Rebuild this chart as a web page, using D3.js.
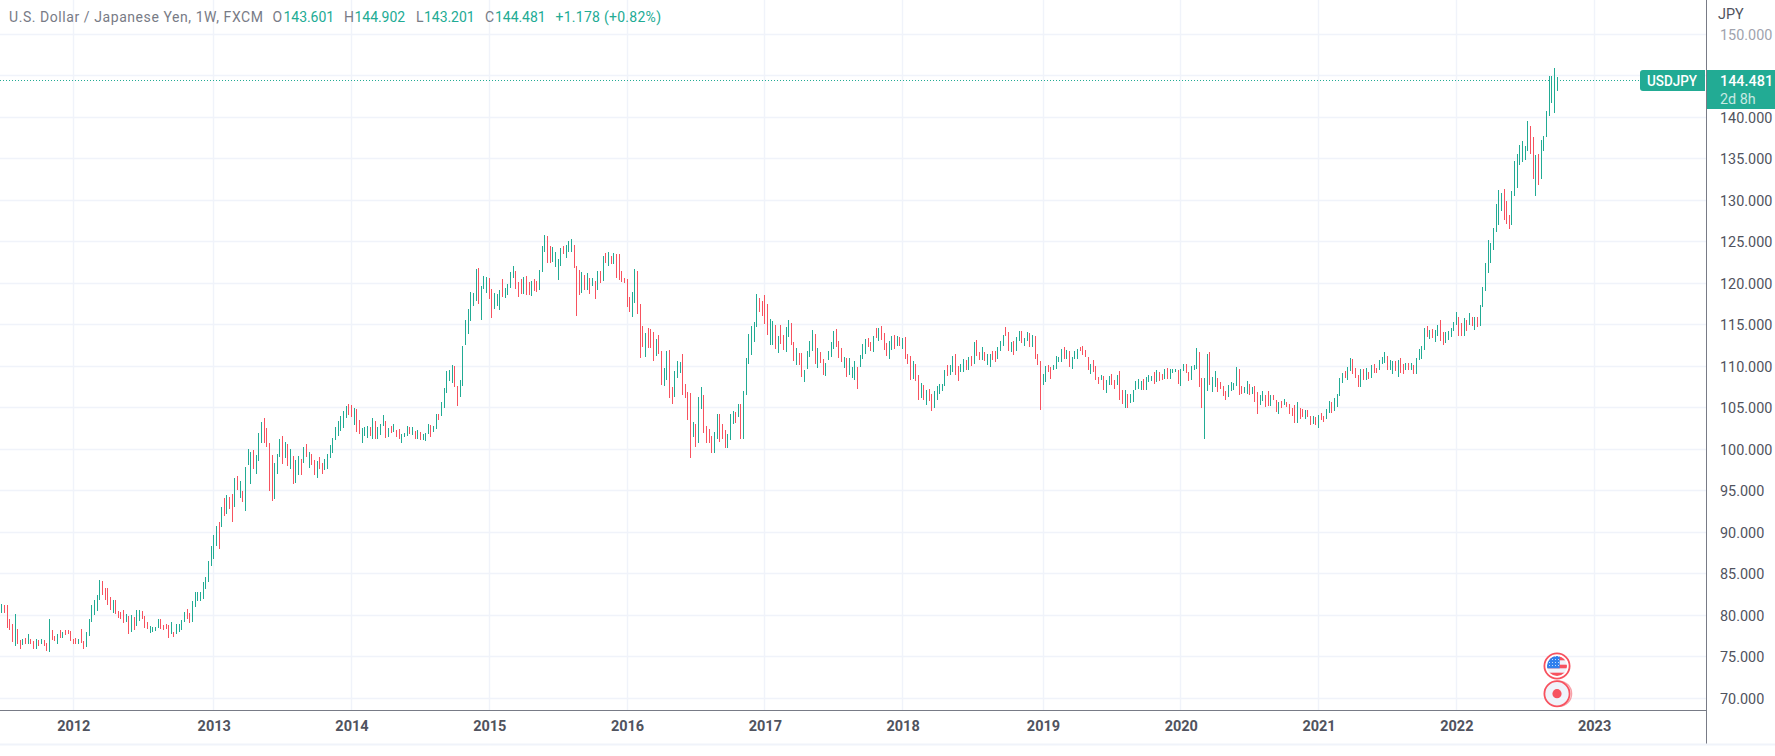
<!DOCTYPE html>
<html><head><meta charset="utf-8"><title>USDJPY weekly</title>
<script src="https://cdn.jsdelivr.net/npm/d3@7"></script>
<style>
html,body{margin:0;padding:0;background:#fff;overflow:hidden}
svg{display:block;font-family:Roboto,"Open Sans",sans-serif}
</style></head><body><svg id="c" width="1775" height="756"></svg>
<script>
// Each weekly bar: [high, low, closedUp]
const w2011=[[81.4,80.3,1],[81.3,80.3,0],[81.2,78.5,0],[79.5,78.2,0],[78.9,76.8,0],[80.2,76.3,1],[78.4,76.5,0],[77,75.9,0],[77.2,76.4,1],[77.3,76.5,0],[77.8,76.6,1],[77.1,76.5,0],[76.9,76,0],[77.1,76,1],[77,76.3,0],[77.2,76.6,1],[77,76.3,0],[76.7,75.7,0],[79.5,75.6,1],[78.2,77,0],[77.5,76.9,0],[77.7,76.5,1],[78.2,77.3,0],[78,77.3,1],[78.2,77.6,0],[78.2,77.8,0],[78.1,76.9,0]];
const w2012=[[77.2,76.6,0],[77.3,76.6,0],[77.2,76.5,1],[78.3,76.7,0],[76.9,76,0],[78,76.2,1],[79.5,77.5,1],[81.2,79.2,1],[81.9,80,1],[82.5,80.5,1],[84.2,81.8,1],[84.1,82.5,0],[83.3,81.8,0],[83.3,81.3,0],[82.2,80.6,0],[81.9,80.3,1],[81.8,80.2,0],[80.5,79.7,0],[80.4,79.6,0],[80.6,79.1,0],[80.2,79.2,1],[79.9,77.7,0],[80,78,1],[79.8,78.2,0],[80.6,78.7,1],[80.6,79.3,1],[80.5,79.5,0],[79.9,78.5,0],[79.2,78.3,0],[78.7,77.9,1],[78.6,78,1],[78.6,78.1,1],[79.6,78.5,1],[79.6,78.4,0],[78.8,78.2,0],[78.9,78.3,0],[78.8,77.3,0],[79.2,77.8,1],[78,77.4,0],[78.9,77.8,1],[79,78,1],[79.4,78.2,1],[80.4,79.2,1],[80.7,79.5,0],[80.3,79.1,0],[81.7,79.2,1],[82.8,81,1],[82.8,81.7,1],[82.8,81.7,1],[84,82,1],[84.6,83.2,1],[86.6,84,1],[88.4,86,1]];
const w2013=[[89.7,86.8,1],[90.7,88.3,1],[91.2,88,0],[93.1,90.6,1],[94.1,92,0],[94.5,92.2,1],[94.3,92.85,0],[94.65,91.2,0],[96.5,93,1],[96.8,95.1,0],[96.2,94.1,1],[95,93.6,0],[97.9,92.6,1],[100,98.1,1],[99.7,95.8,1],[99.9,97.6,0],[99.3,97,1],[102,98.6,1],[103.3,100.8,1],[103.8,100.8,0],[102.6,100.3,0],[100.8,95,0],[99.3,93.8,0],[98.4,94,1],[99.4,97,1],[101.2,99.1,1],[101.6,98.2,0],[100.9,99,1],[100.6,98,0],[100,97.6,1],[99.2,95.8,0],[98.7,95.9,1],[99.2,96.9,1],[98.8,96.9,0],[100.3,98.4,1],[100.6,99.1,0],[99.7,97.8,1],[99.4,98.1,0],[98.7,96.9,0],[98.6,96.5,1],[99.1,97.6,0],[98.4,97,0],[98.8,97.5,1],[99.4,97.6,1],[100.5,99,1],[101.4,99.6,1],[102.7,101.1,1],[103.4,101.6,1],[104,102.2,1],[104.6,102.6,1],[105.2,103.8,1],[105.45,104.1,0]];
const w2014=[[105.3,103.9,0],[105,102.9,1],[104.8,102.1,0],[103.5,101.8,0],[102.6,100.8,1],[102.7,101.6,1],[102.8,101.4,1],[102.7,101.6,0],[103.8,101.2,1],[103.4,101.2,0],[102.7,101.2,1],[103,101.7,1],[104.1,102.8,1],[103.4,101.4,0],[102.6,101.5,1],[102.8,102,0],[103,102.1,1],[102.3,101.5,0],[102.4,101.3,0],[101.9,100.8,1],[102,101.5,1],[102.8,101.6,1],[102.7,101.8,0],[102.7,101.7,1],[102.2,101.2,0],[102.3,101.3,1],[102.1,101.1,0],[101.9,101.1,1],[102,101,1],[103.1,101.8,1],[102.9,101.5,0],[102.8,102.1,1],[104.3,102.5,1],[104.2,103.5,0],[105.7,104,1],[107.4,105,1],[109.4,106.8,1],[109.6,108.2,1],[110.2,108,1],[110,107.5,0],[107.6,105.2,0],[108.3,106.3,1],[112.4,107.6,1],[115.6,112.6,1],[116.9,113.9,1],[119,115.5,1],[118.8,117.3,1],[121.7,117.9,1],[121.85,117.5,0],[119.7,115.6,1],[120.9,119.3,1],[120.8,118.8,1]];
const w2015=[[120.6,118.1,0],[119.3,115.8,0],[118.8,116.9,1],[118.7,117.3,1],[119.2,116.8,1],[120.5,118.4,0],[119.4,118.2,1],[119.9,118.6,1],[121.4,119.4,1],[122.1,120.6,1],[121.5,119.3,0],[120.2,118.4,0],[120.5,118.7,0],[120.8,118.7,1],[120.9,118.6,0],[120.2,118.6,0],[120.3,118.5,1],[120.5,119.1,0],[120.3,119,0],[121.6,119.2,1],[124.5,121.4,1],[125.8,123.8,1],[125.7,122.4,0],[124.5,122.4,0],[124.4,122.6,1],[123.8,122,1],[122.9,120.4,1],[124.3,122.1,1],[124.5,123.5,0],[124.6,123.1,1],[125.1,123.8,1],[125.3,123.8,1],[124.6,121.8,0],[122.1,116.1,0],[121.6,118.6,0],[121.4,118.8,1],[121,119.2,0],[121.2,119.2,1],[120.6,118.7,0],[120.6,119.7,1],[120.3,118.1,0],[121.5,119.2,1],[121.5,120,0],[123.3,120.3,1],[123.7,122.4,0],[123.8,122.1,1],[123.3,122.3,0],[123.7,122.3,1],[123.5,120.6,0],[123.5,120.4,0],[121.5,120.2,0],[120.6,120,0]];
const w2016=[[120.5,117.2,0],[118.4,116.5,0],[119,116,1],[121.7,117.6,1],[121.5,116.3,0],[117.5,111,0],[114.9,112.3,0],[114,111.1,1],[114.6,112.2,0],[114.5,112.2,0],[114.1,110.6,0],[113.3,111.2,1],[113.8,111.5,0],[111.8,107.7,0],[109.8,107.6,1],[111.8,108.4,1],[112,106.2,0],[107.5,105.5,0],[109.4,106.3,1],[110.6,108.6,1],[110.5,109.2,1],[111.5,106.5,0],[107.9,106.2,0],[106.9,103.5,0],[106.8,99,0],[103.3,101.5,1],[103,100.3,0],[106.3,100.7,1],[107.5,104.9,1],[106.5,102,0],[102.8,100.7,0],[102.4,100.8,0],[101.6,99.5,0],[102.1,99.5,1],[104.3,101.2,1],[104.3,100.9,0],[103,101.2,0],[102.3,100.1,0],[101.9,100.1,1],[104.2,101.1,1],[104.6,103,1],[104.5,103.2,0],[105.5,103.9,1],[105.5,101.2,0],[107,101.2,1],[111,106.6,1],[113.9,110.3,1],[114.9,111.4,1],[115.3,112.9,1],[118.7,114.7,1],[118.2,116.5,0],[117.9,116.1,0]];
const w2017=[[118.6,115.1,0],[117.5,113.8,0],[115.7,112.6,1],[115.5,112.6,1],[115,112.1,0],[113.7,111.6,1],[115,112.7,0],[113.8,112,0],[114.7,111.7,1],[115.6,113.5,1],[115.2,112.6,0],[112.9,110.6,0],[112.2,110.2,1],[111.6,110.2,0],[111.6,108.7,0],[109.5,108.1,1],[111.8,109.7,1],[113.1,111.1,1],[114.4,111.8,1],[113.9,110.3,0],[112.2,109.8,1],[111.7,110.4,0],[110.9,109,0],[110.4,108.8,1],[111.8,110.8,1],[112.9,111.1,1],[114.3,112.1,1],[114.5,112.3,0],[113.1,111,0],[112.2,110.5,0],[111.1,109.8,1],[111,108.7,0],[111,109,1],[109.9,108.6,1],[110.6,108.3,1],[109.9,107.3,0],[111.4,109.9,1],[112.7,110.9,1],[113.3,111.5,1],[113.4,112.3,0],[112.9,111.8,0],[113.7,111.7,1],[114.6,113.4,0],[114.6,113,1],[114.8,113.2,0],[114,112,0],[112.8,111.2,0],[113,110.9,1],[113.7,112,1],[113.8,112.1,0],[113.7,112.4,1],[113.5,112.5,0]];
const w2018=[[113.4,112.1,1],[113.5,110.9,0],[111.5,110.3,0],[111.3,108.4,0],[110.6,108.5,1],[110.3,108.2,0],[109,106,0],[108,106.2,1],[107.8,106,0],[107.1,105.3,1],[107.3,105.8,0],[106.7,104.6,0],[107,105,1],[107.6,106,1],[107.9,106.7,1],[107.9,107,1],[109.6,107.6,1],[110.1,108.8,0],[110.1,108.9,1],[111.2,109.3,1],[111.5,109,0],[110,108.2,0],[110.3,109.3,1],[110.9,109.3,1],[110.8,109.6,0],[111.1,109.5,1],[111.2,110,0],[112.9,110.3,1],[113.2,111.2,0],[111.7,110.7,0],[112.3,110.8,1],[111.7,110.6,0],[111.5,110.1,1],[111.5,109.9,1],[111.9,110.8,0],[111.9,110.5,0],[112.3,110.9,1],[113,111.8,1],[113.8,112.4,1],[114.7,113.6,0],[114.1,111.9,0],[112.9,111.7,1],[113,111.4,0],[113.5,111.8,1],[114.2,113,1],[114.3,112.8,0],[113.4,112.4,1],[114.1,113,1],[114,112.3,0],[113.8,112.3,1],[113.6,110.9,0],[111.5,110.2,0],[110.6,104.7,0]];
const w2019=[[109.1,107.8,1],[110,108.1,1],[110.1,109.3,0],[109.9,108.5,0],[110.2,109.5,1],[111.2,109.7,1],[111.1,110.5,1],[112.1,110.5,1],[112.3,110.9,0],[112,110.9,1],[111.8,109.9,0],[111.1,109.7,1],[111.9,110.9,1],[112.1,110.9,1],[112.3,111.8,0],[112.5,111.4,0],[112,111.1,0],[111.1,109.6,0],[110.3,109.1,1],[110.8,109.3,0],[110,108.3,0],[108.7,107.9,0],[108.9,108.3,1],[108.8,107.1,0],[108.3,106.8,1],[108.8,107.7,1],[109.1,107.7,0],[108.4,107.3,0],[108.9,107.7,1],[109.4,106,0],[107.2,105.5,0],[107.1,105,1],[106.7,105,0],[106.7,105.6,1],[107.2,105.7,1],[108.2,107.1,1],[108.5,107.3,1],[108.2,107.1,1],[108.5,107.1,0],[108.7,107.1,1],[109,108.1,1],[108.8,108.2,1],[109.3,107.9,0],[109.6,108.1,1],[109.3,108.2,0],[109.1,108.4,0],[109.7,108.5,1],[109.8,108.5,0],[109.7,108.5,1],[109.7,109.2,1],[109.7,109.3,1],[109.6,107.9,0]];
const w2020=[[109.7,107.6,1],[110.3,109.4,1],[110.3,109.2,0],[109.3,108.2,0],[110,108.4,1],[110.2,109.6,1],[112.2,109.7,1],[111.7,107.5,0],[108.6,105,0],[108.6,101.2,1],[111.5,107,1],[111.7,107.8,0],[108.7,106.9,1],[109.4,107.5,1],[108.6,106.9,0],[108.1,107.3,0],[107.6,106.4,0],[107,106,0],[107.8,106.3,1],[108.1,107,1],[108,107.1,1],[109.9,107.6,1],[109.7,106.6,0],[107.6,106.7,0],[107.5,106.8,1],[108.2,106.7,1],[107.9,106.6,0],[107.5,106.7,1],[107.6,105.7,0],[106.9,104.2,0],[106.5,105.3,1],[107,105.8,1],[106.6,105.1,0],[107,105.2,0],[106.5,105.2,1],[106.5,105.9,0],[106,104.5,0],[105.7,104.3,1],[105.8,105,0],[106.1,105.3,1],[105.7,105.1,0],[105.5,104.3,0],[105,104,0],[105.3,103.2,0],[105.7,103.2,1],[105,103.6,0],[104.8,103.9,0],[104.7,103.7,1],[104.7,103.9,0],[104,102.9,0],[104,103.1,1],[103.9,102.9,0]];
const w2021=[[104.1,102.6,1],[104.4,103.5,0],[104,103.3,0],[104.9,103.6,1],[105.8,104.4,1],[105.7,104.4,0],[106.2,104.6,1],[106.7,105.1,1],[108.6,106.4,1],[109.2,108,1],[109.4,108.6,0],[109.9,108.4,1],[111,109.4,1],[110.9,109.1,0],[109.8,108.6,0],[108.9,107.5,0],[109.7,107.5,1],[109.7,108.3,0],[109.8,108.3,1],[109.3,108.5,0],[110.2,108.6,1],[110.3,109.2,0],[109.8,109.2,0],[110.8,109.6,1],[111.1,110.3,1],[111.7,110.4,1],[111.3,109.5,0],[110.7,109.6,1],[110.6,109.1,1],[110.6,109.4,0],[110.8,108.7,1],[111,109.2,0],[110.3,109.1,0],[110.4,109.6,1],[110.4,109.6,0],[110.4,109.5,1],[110.1,109.1,0],[111,109.1,1],[112.1,110.8,1],[112.4,110.9,1],[114.6,112,1],[114.8,113.5,0],[114.4,113.3,1],[114.5,113.4,0],[114.4,112.9,1],[115,113.7,1],[115.6,113.1,0],[114.1,112.6,0],[114.1,112.8,1],[114.3,113.2,1],[114.6,113.5,1],[115.3,114.3,1]];
const w2022=[[116.5,115,1],[115.9,113.6,0],[115.2,113.6,0],[115.8,113.6,1],[115.6,114.2,0],[116.4,115,1],[116,114.9,0],[115.9,114.4,1],[115.9,114.7,0],[117.4,114.9,1],[119.5,117.2,1],[122.5,119.1,1],[125.2,121.3,1],[124.8,122.4,1],[126.7,124,1],[129.5,126.2,1],[131.3,127,1],[130.9,128.7,1],[131.4,127.6,0],[129.9,127.1,0],[128.2,126.5,0],[131.1,127,1],[134.7,130.5,1],[135.6,131.5,1],[136.7,134.3,1],[137.1,134.6,1],[136.6,134.8,1],[139.5,135.9,1],[138.9,135.6,0],[137.6,132.6,0],[135.5,130.5,1],[135.6,131.8,0],[137.3,132.6,1],[137.8,135.9,1],[140.8,137.6,1],[145,140.1,1],[145,141.7,1],[146,140.5,1],[144.902,143.201,1]];

const yearLabels=[2012,2013,2014,2015,2016,2017,2018,2019,2020,2021,2022,2023];
const yearStartWeek=[0,53,105,157,209,261,313,366,418,470,522,574];
const priceTicks=[70,75,80,85,90,95,100,105,110,115,120,125,130,135,140,150];
const priceGrid=[70,75,80,85,90,95,100,105,110,115,120,125,130,135,140,145,150];
const lastPrice=144.481;
const legendParts=[
 ["U.S. Dollar / Japanese Yen, 1W, FXCM",9,"#787b86",254],["O",272.5,"#787b86",10],["143.601",283.5,"#22ab94",50.6],
 ["H",344,"#787b86",10],["144.902",354.5,"#22ab94",50.6],["L",416,"#787b86",7.5],["143.201",424,"#22ab94",50.6],
 ["C",485,"#787b86",9.5],["144.481",495,"#22ab94",50.6],["+1.178 (+0.82%)",555.5,"#22ab94",105.5]];

const UP="#22ab94",DOWN="#f7525f",GRID="#f0f3fa",AXIS="#787b86";
const older=w2011.map((d,i)=>({week:i-w2011.length,high:d[0],low:d[1],up:d[2]}));
const newer=[w2012,w2013,w2014,w2015,w2016,w2017,w2018,w2019,w2020,w2021,w2022].flat()
  .map((d,i)=>({week:i,high:d[0],low:d[1],up:d[2]}));
const bars=older.concat(newer);

const svg=d3.select("#c");
const x=d3.scaleLinear().domain([0,560]).range([73.3,1557]);
const y=d3.scaleLinear().domain([70,150]).range([698.3,34.3]);
const px=v=>Math.floor(v)+.5;

svg.append("rect").attr("width",1775).attr("height",756).attr("fill","#fff");
// grid
svg.append("g").selectAll("line").data(priceGrid).join("line")
  .attr("x1",0).attr("x2",1706).attr("y1",d=>px(y(d))).attr("y2",d=>px(y(d)))
  .attr("stroke",GRID).attr("stroke-width",1.4);
svg.append("g").selectAll("line").data(yearStartWeek).join("line")
  .attr("x1",d=>px(x(d))).attr("x2",d=>px(x(d))).attr("y1",0).attr("y2",710)
  .attr("stroke",GRID).attr("stroke-width",1.4);

// bars
svg.append("g").selectAll("line").data(bars).join("line")
  .attr("x1",d=>px(x(d.week))).attr("x2",d=>px(x(d.week)))
  .attr("y1",d=>y(d.high)).attr("y2",d=>y(d.low))
  .attr("stroke",d=>d.up?UP:DOWN).attr("stroke-width",1.1).attr("shape-rendering","crispEdges");

// last price line
svg.append("line").attr("x1",0).attr("x2",1640).attr("y1",px(y(lastPrice))).attr("y2",px(y(lastPrice)))
  .attr("stroke",UP).attr("stroke-width",1).attr("stroke-dasharray","1 2");

// event icons
const defs=svg.append("defs");
defs.append("clipPath").attr("id","flag").append("circle").attr("cx",1557).attr("cy",666).attr("r",10);
const ic=svg.append("g");
ic.append("circle").attr("cx",1557).attr("cy",666).attr("r",12.6).attr("fill","#fff").attr("stroke",DOWN).attr("stroke-width",1.8);
const fl=ic.append("g").attr("clip-path","url(#flag)");
fl.append("rect").attr("x",1547).attr("y",656).attr("width",20).attr("height",20).attr("fill","#f0f3fa");
fl.selectAll(".s").data([656.7,664.7,672.7]).join("rect").attr("x",1547).attr("width",20).attr("height",3.6)
  .attr("y",d=>d).attr("fill",DOWN);
fl.append("rect").attr("x",1547).attr("y",656).attr("width",12.7).attr("height",12.3).attr("fill","#2f80ed");
fl.selectAll(".dv").data([1549.5,1552.5,1555.5,1558.5]).join("line").attr("x1",d=>d).attr("x2",d=>d)
  .attr("y1",656).attr("y2",668).attr("stroke","#fff").attr("stroke-width",.7).attr("stroke-dasharray","1 2");
ic.append("circle").attr("cx",1559).attr("cy",693.7).attr("r",12.6).attr("fill","#fff").attr("stroke","#f7a0a8").attr("stroke-width",1.4);
ic.append("circle").attr("cx",1557).attr("cy",693.7).attr("r",12.6).attr("fill","#f0f3fa").attr("stroke",DOWN).attr("stroke-width",1.8);
ic.append("circle").attr("cx",1557).attr("cy",693.7).attr("r",4.6).attr("fill",DOWN);

// axis frame
svg.append("line").attr("x1",1706.5).attr("x2",1706.5).attr("y1",0).attr("y2",744).attr("stroke",AXIS);
svg.append("line").attr("x1",0).attr("x2",1706).attr("y1",710.5).attr("y2",710.5).attr("stroke",AXIS);
svg.append("rect").attr("x",0).attr("y",743.5).attr("width",1775).attr("height",2).attr("fill",GRID);

// axes
const yAxis=d3.axisRight(y).tickValues(priceTicks).tickFormat(d3.format(".3f")).tickSize(0).tickPadding(0);
const yg=svg.append("g").attr("transform","translate(1720,0)").call(yAxis);
yg.select(".domain").remove();
yg.selectAll("text").attr("font-size",14.4).attr("font-family","Roboto").attr("fill",d=>d===150?"#a0a3ad":"#50535e").attr("dy",".35em");
const xAxis=d3.axisBottom(x).tickValues(yearStartWeek).tickFormat((d,i)=>yearLabels[i]).tickSize(0).tickPadding(0);
const xg=svg.append("g").attr("transform","translate(0,721)").call(xAxis);
xg.select(".domain").remove();
xg.selectAll("text").attr("font-size",14.5).attr("font-weight",700).attr("font-family","Roboto").attr("fill","#50535e").attr("dy",".71em");

svg.append("text").attr("x",1718).attr("y",19).attr("font-size",14.4).attr("fill","#50535e").text("JPY");

// price tags
svg.append("path").attr("d","M1705 70H1643a3 3 0 0 0-3 3V88a3 3 0 0 0 3 3H1705Z").attr("fill",UP);
svg.append("text").attr("x",1647).attr("y",85.5).attr("font-size",14.4).attr("font-weight",500).attr("fill","#fff").attr("textLength",50).attr("lengthAdjust","spacingAndGlyphs").text("USDJPY");
svg.append("rect").attr("x",1707).attr("y",70).attr("width",68).attr("height",39).attr("fill",UP);
svg.append("text").attr("x",1720).attr("y",86).attr("font-size",14.4).attr("font-weight",500).attr("fill","#fff").text(d3.format(".3f")(lastPrice));
svg.append("text").attr("x",1720).attr("y",104).attr("font-size",14.4).attr("fill","#fff").attr("fill-opacity",.75).text("2d 8h");

// legend
svg.append("g").selectAll("text").data(legendParts).join("text")
  .attr("x",d=>d[1]).attr("y",21.5).attr("font-size",14).attr("fill",d=>d[2])
  .attr("textLength",d=>d[3]).attr("lengthAdjust","spacing").text(d=>d[0]);
</script></body></html>
